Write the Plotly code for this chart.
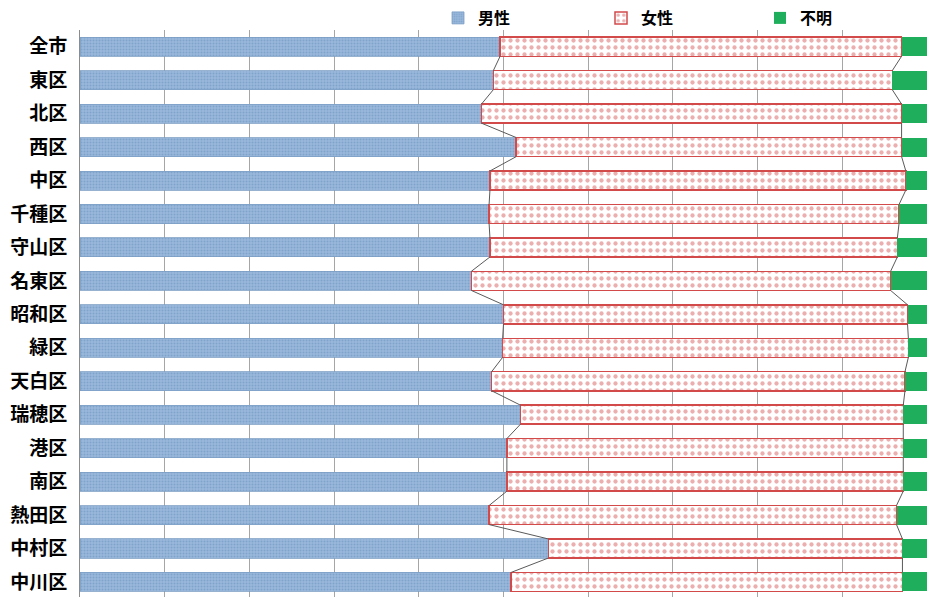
import plotly.graph_objects as go

categories = ["全市", "東区", "北区", "西区", "中区", "千種区", "守山区", "名東区", "昭和区",
              "緑区", "天白区", "瑞穂区", "港区", "南区", "熱田区", "中村区", "中川区"]
male = [49.6, 48.8, 47.4, 51.5, 48.4, 48.3, 48.4, 46.2, 50.0, 49.9, 48.6, 52.0, 50.4, 50.4, 48.3, 55.3, 50.9]
unknown = [3.0, 4.1, 3.0, 3.0, 2.5, 3.3, 3.5, 4.3, 2.3, 2.2, 2.6, 2.8, 2.8, 2.8, 3.6, 2.9, 2.9]
female = [round(100 - m - u, 1) for m, u in zip(male, unknown)]
series_names = ["男性", "女性", "不明"]

idx = list(range(len(categories)))
BW = 0.57
FONT = "Noto Sans CJK JP"

fig = go.Figure()
fig.add_trace(go.Bar(
    y=idx, x=male, name=series_names[0], orientation="h", width=BW, legend="legend",
    marker=dict(color="#98b7da", line=dict(color="#7d9fc6", width=0.8),
                pattern=dict(shape=".", fgcolor="#6a8fbb", size=3, solidity=0.35)),
))
fig.add_trace(go.Bar(
    y=idx, x=female, name=series_names[1], orientation="h", width=BW, legend="legend2",
    marker=dict(color="#ffffff", line=dict(color="#d24a4a", width=1.5),
                pattern=dict(shape=".", fgcolor="#d86060", bgcolor="#ffffff", size=7, solidity=0.3)),
))
fig.add_trace(go.Bar(
    y=idx, x=unknown, name=series_names[2], orientation="h", width=BW, legend="legend3",
    marker=dict(color="#1faf5c", line=dict(color="#1faf5c", width=0)),
))

# series lines connecting stack boundaries between adjacent bars
cum1 = male
cum2 = [m + f for m, f in zip(male, female)]
for cum in (cum1, cum2):
    xs, ys = [], []
    for i in range(len(categories) - 1):
        xs += [cum[i], cum[i + 1], None]
        ys += [i + BW / 2, i + 1 - BW / 2, None]
    fig.add_trace(go.Scatter(x=xs, y=ys, mode="lines", line=dict(color="#5a5a5a", width=1),
                             showlegend=False, hoverinfo="skip"))

L, W, T, H = 72, 847, 22, 589
PH = H - T

def leg(xpx):
    return dict(orientation="h", x=(xpx - L) / W, xanchor="left",
                y=1 + (T - 10) / PH, yanchor="middle",
                font=dict(size=16, family=FONT, weight="bold", color="#000000"),
                itemwidth=30, bgcolor="rgba(0,0,0,0)", borderwidth=0)

fig.update_layout(
    barmode="stack",
    width=930, height=H,
    margin=dict(l=L, r=930 - L - W, t=T, b=0, autoexpand=False),
    paper_bgcolor="white", plot_bgcolor="white",
    font=dict(family=FONT, color="#000000"),
    legend=leg(430), legend2=leg(593), legend3=leg(752),
    showlegend=True,
)
fig.update_xaxes(range=[0, 100], dtick=10, showgrid=True, gridcolor="#a6a6a6", gridwidth=1,
                 showticklabels=False, zeroline=False, showline=False, ticks="", automargin=False)
fig.update_yaxes(range=[16.45, -0.5], tickmode="array", tickvals=idx,
                 ticktext=["<b>%s</b>" % c for c in categories],
                 tickfont=dict(size=19, family=FONT, color="#000000"),
                 showgrid=False, zeroline=False, showline=True, linecolor="#8c8c8c", linewidth=1,
                 ticks="", ticklabelstandoff=8, automargin=False)

fig.write_html("out.html")
